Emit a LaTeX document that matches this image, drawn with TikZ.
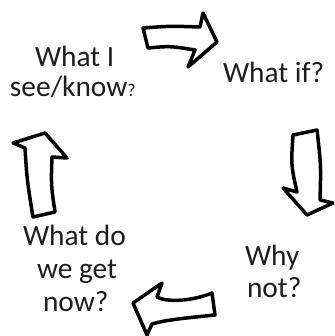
\documentclass[tikz,border=0pt]{standalone}
\usepackage{fontspec}
\setmainfont{Carlito}
\definecolor{inkgray}{RGB}{30,30,30}
\tikzset{
  cyclabel/.style={inner sep=0pt,outer sep=0pt,anchor=base west,text=inkgray,font=\fontsize{14.7}{17.6}\selectfont},
  bentarrow/.style={draw=black,fill=white,line width=1.75pt,line join=round}
}
\begin{document}
\begin{tikzpicture}[x=.5pt,y=-.5pt]
\path[use as bounding box] (0,0) rectangle (334,336);
\node[cyclabel] (whatI) at (35,67) {What I};
\node[cyclabel] (seeknow) at (10,97) {see/know{\fontsize{9}{10}\selectfont ?}};
\node[cyclabel] (whatif) at (223,83) {What if?};
\node[cyclabel] (why) at (245,265) {Why};
\node[cyclabel] (whynot) at (247,297) {not?};
\node[cyclabel] (whatdo) at (23,245) {What do};
\node[cyclabel] (weget) at (37,278) {we get};
\node[cyclabel] (now) at (43,311) {now?};
\path[bentarrow] (143,28) .. controls (170,26) .. (200,27) -- (203,13) -- (217,42) -- (188,67) -- (195,50) .. controls (170,46) .. (148,48) -- cycle;
\path[bentarrow] (293,135) -- (317,130) .. controls (321,165) .. (320,200) -- (333,203) -- (307,215) -- (283,188) -- (297,192) .. controls (291,165) .. (293,135) -- cycle;
\path[bentarrow] (212,293) -- (215,315) .. controls (185,318) and (165,320) .. (152,324) -- (147,335) -- (133,303) -- (162,283) -- (157,297) .. controls (165,302) and (190,302) .. (212,293) -- cycle;
\path[bentarrow] (45,133) -- (67,158) -- (52,157) .. controls (51,185) .. (55,212) -- (33,217) .. controls (27,180) .. (25,148) -- (13,143) -- cycle;
\end{tikzpicture}
\end{document}
